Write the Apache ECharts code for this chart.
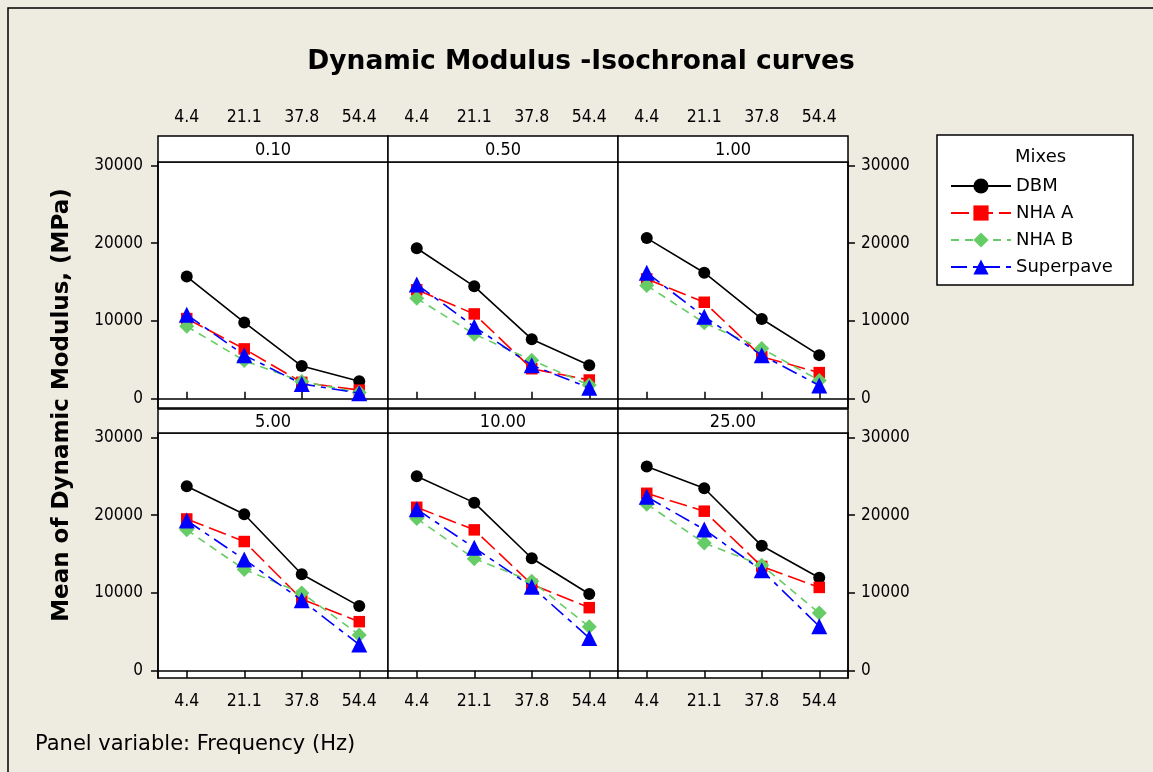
<!DOCTYPE html>
<html>
<head>
<meta charset="utf-8">
<script src="https://cdn.jsdelivr.net/npm/echarts@6/dist/echarts.min.js"></script>
<style>
html,body{margin:0;padding:0;background:#EEEBE1;}
#chart{width:1153px;height:772px;}
</style>
</head>
<body>
<div id="chart"></div>
<script>
// ---- data ----
const temperatures = ['4.4', '21.1', '37.8', '54.4'];
const frequencies = ['0.10', '0.50', '1.00', '5.00', '10.00', '25.00'];
const mixNames = ['DBM', 'NHA A', 'NHA B', 'Superpave'];
const yTicks = [0, 10000, 20000, 30000];

// one row per frequency panel, values at the 4 temperatures
const dbm = [
  [15700, 9800, 4200, 2250],
  [19350, 14450, 7650, 4300],
  [20650, 16200, 10250, 5600],
  [23700, 20100, 12400, 8300],
  [25000, 21600, 14450, 9850],
  [26250, 23450, 16050, 11950]
];
const nhaA = [
  [10300, 6400, 2100, 1100],
  [14000, 10900, 3850, 2400],
  [15400, 12400, 5400, 3350],
  [19500, 16600, 9200, 6300],
  [21000, 18100, 11100, 8100],
  [22800, 20500, 13400, 10700]
];
const nhaB = [
  [9300, 4900, 2200, 800],
  [12900, 8300, 4950, 1750],
  [14550, 9750, 6450, 2350],
  [18100, 13000, 10000, 4600],
  [19550, 14400, 11500, 5650],
  [21400, 16400, 13550, 7400]
];
const superpave = [
  [10800, 5600, 1900, 700],
  [14700, 9250, 4300, 1400],
  [16200, 10550, 5600, 1700],
  [19300, 14300, 9050, 3350],
  [20750, 15800, 10800, 4200],
  [22350, 18150, 12900, 5700]
];

// ---- styling ----
const FONT = "'DejaVu Sans Condensed', 'Noto Sans', sans-serif";
const FONT_WIDE = "'DejaVu Sans', 'Noto Sans', sans-serif";
const mixData = [dbm, nhaA, nhaB, superpave];
const mixStyle = [
  {color: '#000000', symbol: 'circle', size: 12, type: 'solid'},
  {color: '#FF0000', symbol: 'rect', size: 11.5, type: [18, 6]},
  {color: '#66CC66', symbol: 'diamond', size: 15, type: [8, 6]},
  {color: '#0000FF', symbol: 'triangle', size: 16, type: [16, 6, 5, 6]}
];

const panelW = 230;
const colLeft = [158, 388, 618];
const rowTop = [162, 433];
const rowH = [246, 245];
const stripH = [26, 24];
const rowMin = [-1200, -940];
const rowMax = [30440, 30550];

const grids = [], xAxes = [], yAxes = [], series = [], graphics = [];

graphics.push({type: 'rect', z: 0, shape: {x: 8, y: 8, width: 1170, height: 790},
  style: {fill: 'none', stroke: '#000', lineWidth: 1.5}, silent: true});

frequencies.forEach((f, p) => {
  const col = p % 3, row = Math.floor(p / 3);
  const left = colLeft[col], top = rowTop[row];
  grids.push({left: left, top: top, width: panelW, height: rowH[row], show: true,
    backgroundColor: '#fff', borderColor: '#000', borderWidth: 1.5, containLabel: false});
  xAxes.push({
    gridIndex: p, type: 'category', data: temperatures, boundaryGap: true,
    position: row === 0 ? 'top' : 'bottom', offset: row === 0 ? stripH[0] : 0,
    axisLine: {show: true, lineStyle: {color: '#000', width: 1.5}},
    axisTick: {show: true, alignWithLabel: true, length: 7, lineStyle: {color: '#000', width: 1.5}},
    axisLabel: {show: true, color: '#000', fontFamily: FONT, fontSize: 17.5, margin: row === 0 ? 10 : 14},
    splitLine: {show: false}
  });
  const showY = col !== 1;
  yAxes.push({
    gridIndex: p, type: 'value', min: rowMin[row], max: rowMax[row],
    position: col === 2 ? 'right' : 'left',
    axisLine: {show: showY, lineStyle: {color: '#000', width: 1.5}},
    axisTick: {show: showY, length: 7, customValues: yTicks, lineStyle: {color: '#000', width: 1.5}},
    axisLabel: {show: showY, customValues: yTicks, formatter: v => String(v),
      color: '#000', fontFamily: FONT, fontSize: 17, margin: col === 2 ? 13 : 15},
    splitLine: {show: false}
  });
  // strip
  const sTop = top - stripH[row];
  graphics.push({type: 'rect', z: 1, shape: {x: left, y: sTop, width: panelW, height: stripH[row]},
    style: {fill: '#fff', stroke: '#000', lineWidth: 1.5}, silent: true});
  graphics.push({type: 'text', z: 2, x: left + panelW / 2, y: sTop + stripH[row] / 2 + 1,
    style: {text: f, fill: '#000', font: '18px ' + FONT, textAlign: 'center', textVerticalAlign: 'middle'}, silent: true});

  mixNames.forEach((name, m) => {
    const st = mixStyle[m];
    series.push({
      type: 'line', name: name, xAxisIndex: p, yAxisIndex: p,
      data: mixData[m][p],
      symbol: st.symbol, symbolSize: st.size,
      itemStyle: {color: st.color},
      lineStyle: {color: st.color, width: 1.6, type: st.type},
      z: 2 + m
    });
  });
});

// legend box and title
graphics.push({type: 'rect', z: 0, shape: {x: 937, y: 135, width: 196, height: 150},
  style: {fill: '#fff', stroke: '#000', lineWidth: 1.5}, silent: true});
graphics.push({type: 'text', z: 2, x: 1015, y: 157,
  style: {text: 'Mixes', fill: '#000', font: '18px ' + FONT_WIDE, textAlign: 'left', textVerticalAlign: 'middle'}, silent: true});
// chart title
graphics.push({type: 'text', z: 2, x: 581, y: 62,
  style: {text: 'Dynamic Modulus -Isochronal curves', fill: '#000', font: 'bold 26.5px ' + FONT_WIDE, textAlign: 'center', textVerticalAlign: 'middle'}, silent: true});
// y axis name
graphics.push({type: 'text', z: 2, x: 62, y: 405, rotation: Math.PI / 2,
  style: {text: 'Mean of Dynamic Modulus, (MPa)', fill: '#000', font: 'bold 23px ' + FONT_WIDE, textAlign: 'center', textVerticalAlign: 'middle'}, silent: true});
// footnote
graphics.push({type: 'text', z: 2, x: 35, y: 745,
  style: {text: 'Panel variable: Frequency (Hz)', fill: '#000', font: '21px ' + FONT_WIDE, textAlign: 'left', textVerticalAlign: 'middle'}, silent: true});

const chart = echarts.init(document.getElementById('chart'), null, {renderer: 'canvas'});
chart.setOption({
  backgroundColor: '#EEEBE1',
  animation: false,
  textStyle: {fontFamily: FONT},
  grid: grids,
  xAxis: xAxes,
  yAxis: yAxes,
  legend: {
    data: mixNames, orient: 'vertical', left: 945, top: 172,
    itemWidth: 60, itemHeight: 19, itemGap: 9,
    textStyle: {color: '#000', fontSize: 18, lineHeight: 18, fontFamily: FONT_WIDE},
    selectedMode: false
  },
  graphic: graphics,
  series: series
});
</script>
</body>
</html>
